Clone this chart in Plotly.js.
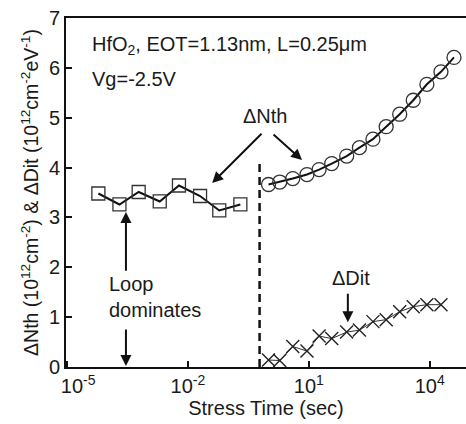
<!DOCTYPE html>
<html>
<head>
<meta charset="utf-8">
<script src="https://cdn.plot.ly/plotly-3.0.1.min.js"></script>
<style>html,body{margin:0;padding:0;background:#fff;}#chart{width:466px;height:424px;}</style>
</head>
<body>
<div id="chart"></div>
<script>
// Stress time (s) and ΔNth for the loop-dominated (square) series
const loopTime = [6e-5, 2e-4, 6e-4, 2e-3, 6e-3, 2e-2, 6e-2, 0.2];
const loopNth  = [3.48, 3.26, 3.51, 3.32, 3.64, 3.43, 3.14, 3.26];

// ΔNth (circles) after the dashed boundary
const nthTime = [1, 1.9, 4, 9, 18, 37, 87, 180, 390, 830, 1800, 3900, 8500, 19000, 40000];
const nthVal  = [3.66, 3.71, 3.78, 3.86, 3.96, 4.08, 4.23, 4.40, 4.57, 4.82, 5.07, 5.35, 5.67, 5.92, 6.21];

// ΔDit (crosses)
const ditTime = [1, 1.9, 4, 9, 18, 37, 87, 180, 390, 830, 1800, 3900, 8500, 19000];
const ditVal  = [0.14, 0.13, 0.41, 0.32, 0.62, 0.57, 0.70, 0.74, 0.91, 0.95, 1.11, 1.21, 1.25, 1.25];

// dashed boundary line
const boundaryTime = [0.6, 0.6];
const boundaryVal  = [0, 4.15];

// axis ticks
const xTickVals = [1e-5, 1e-2, 1e1, 1e4];
const xTickText = ['\u00a0\u00a0\u00a0\u00a010<sup>-5</sup>', '10<sup>-2</sup>', '10<sup>1</sup>', '10<sup>4</sup>'];
const yTickVals = [0, 1, 2, 3, 4, 5, 6, 7];

const FONT = 'Arial, "Liberation Sans", Helvetica, sans-serif';
const TXT = '#1a1a1a';

const traces = [
  {x: loopTime, y: loopNth, mode: 'lines+markers', type: 'scatter',
   line: {color: '#111', width: 2},
   marker: {symbol: 'square-open', size: 13, color: '#333', line: {width: 1.3, color: '#333'}}},
  {x: nthTime, y: nthVal, mode: 'lines+markers', type: 'scatter',
   line: {color: '#111', width: 2},
   marker: {symbol: 'circle-open', size: 14, color: '#333', line: {width: 1.3, color: '#333'}}},
  {x: ditTime, y: ditVal, mode: 'lines+markers', type: 'scatter',
   line: {color: '#333', width: 1},
   marker: {symbol: 'x-thin-open', size: 13, color: '#222', line: {width: 1.4, color: '#222'}}},
  {x: boundaryTime, y: boundaryVal, mode: 'lines', type: 'scatter',
   line: {color: '#111', width: 2.5, dash: '8px,5px'}}
];

const LX = v => Math.log10(v);

function arrow(tx, ty, hx, hy) {
  return {x: LX(hx), y: hy, ax: LX(tx), ay: ty, xref: 'x', yref: 'y', axref: 'x', ayref: 'y',
          text: '', showarrow: true, arrowhead: 2, arrowsize: 1.1, arrowwidth: 2, arrowcolor: '#111'};
}
function label(t, x, y, xanchor, align) {
  return {x: LX(x), y: y, xref: 'x', yref: 'y', text: t, showarrow: false,
          xanchor: xanchor || 'center', yanchor: 'middle', align: align || 'center',
          font: {family: FONT, size: 20, color: TXT}};
}

const annotations = [
  label('HfO<sub>2</sub>, EOT=1.13nm, L=0.25μm', 3.7e-5, 6.45, 'left', 'left'),
  label('Vg=-2.5V', 3.7e-5, 5.77, 'left', 'left'),
  label('ΔNth', 0.81, 5.03),
  label('Loop<br>dominates', 9.8e-5, 1.40, 'left', 'left'),
  label('ΔDit', 112, 1.78),
  arrow(0.73, 4.71, 0.04, 3.69),
  arrow(1.22, 4.69, 6.8, 4.15),
  arrow(2.9e-4, 1.90, 2.9e-4, 3.11),
  arrow(2.9e-4, 0.78, 2.9e-4, 0.02),
  arrow(93, 1.50, 93, 0.90)
];

const layout = {
  width: 466, height: 424,
  margin: {l: 66, r: 0, t: 18, b: 57},
  paper_bgcolor: '#fff', plot_bgcolor: '#fff',
  showlegend: false,
  font: {family: FONT, size: 20, color: TXT},
  xaxis: {
    type: 'log', range: [-5.025, 4.90],
    tickmode: 'array', tickvals: xTickVals, ticktext: xTickText,
    ticks: 'inside', ticklen: 6, tickwidth: 2, tickcolor: '#111',
    showline: true, linecolor: '#111', linewidth: 2, mirror: true,
    showgrid: false, zeroline: false,
    tickfont: {family: FONT, size: 20, color: TXT},
    title: {text: 'Stress Time (sec)', font: {family: FONT, size: 20, color: TXT}, standoff: 4}
  },
  yaxis: {
    range: [0, 7], tickmode: 'array', tickvals: yTickVals,
    ticks: 'inside', ticklen: 6, tickwidth: 2, tickcolor: '#111',
    showline: true, linecolor: '#111', linewidth: 2,
    showgrid: false, zeroline: false,
    tickfont: {family: FONT, size: 20, color: TXT},
    title: {text: 'ΔNth (10<sup>12</sup>cm<sup>-2</sup>) & ΔDit (10<sup>12</sup>cm<sup>-2</sup>eV<sup>-1</sup>)',
            font: {family: FONT, size: 19.5, color: TXT}, standoff: 5}
  },
  annotations: annotations
};

Plotly.newPlot('chart', traces, layout, {staticPlot: true, displayModeBar: false});
</script>
</body>
</html>
